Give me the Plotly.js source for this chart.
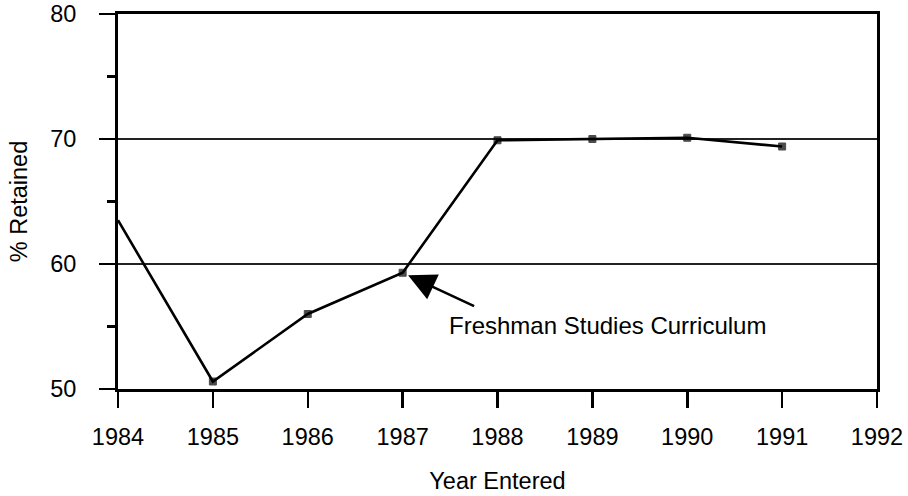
<!DOCTYPE html>
<html>
<head>
<meta charset="utf-8">
<script src="https://cdn.plot.ly/plotly-3.0.1.min.js"></script>
<style>html,body{margin:0;padding:0;background:#fff;}#chart{width:908px;height:496px;}</style>
</head>
<body>
<div id="chart"></div>
<script>
const years = [1984, 1985, 1986, 1987, 1988, 1989, 1990, 1991];
const retained = [63.5, 50.6, 56.0, 59.3, 69.9, 70.0, 70.1, 69.4];
const markerShown = [0, 1, 1, 1, 1, 1, 1, 1];
const xTicks = [1984, 1985, 1986, 1987, 1988, 1989, 1990, 1991, 1992];
const yTicks = [50, 60, 70, 80];
const annotationText = "Freshman Studies Curriculum";
const annotationYear = 1987;
const xTitle = "Year Entered";
const yTitle = "% Retained";

const font = "Liberation Sans, Arial, Helvetica, sans-serif";
const idx = years.indexOf(annotationYear);

const trace = {
  x: years, y: retained, type: "scatter", mode: "lines+markers",
  line: {color: "#000", width: 2.6},
  marker: {symbol: "square", color: "#000", size: markerShown.map(v => v ? 7 : 0),
           line: {color: "#000", width: 1}},
  cliponaxis: true, hoverinfo: "skip"
};

const layout = {
  width: 908, height: 496,
  margin: {l: 118, r: 31, t: 14, b: 107},
  paper_bgcolor: "#fff", plot_bgcolor: "#fff",
  showlegend: false,
  font: {family: font, color: "#000", size: 24},
  xaxis: {
    range: [1984, 1992], tickvals: xTicks, ticktext: xTicks.map(String),
    ticks: "outside", ticklen: 16, tickwidth: 2.5, tickcolor: "#000",
    showline: true, linewidth: 3, linecolor: "#000", mirror: true,
    showgrid: false, zeroline: false, ticklabelstandoff: 9,
    tickfont: {size: 23.5, family: font, color: "#000"},
    title: {text: xTitle, font: {size: 23.5, family: font, color: "#000"}, standoff: 24}
  },
  yaxis: {
    range: [50, 80], tickvals: yTicks, ticktext: yTicks.map(String),
    ticks: "outside", ticklen: 16, tickwidth: 2.5, tickcolor: "#000",
    minor: {dtick: 5, tick0: 50, ticks: "outside", ticklen: 8, tickwidth: 2.5, tickcolor: "#000", showgrid: false},
    showline: true, linewidth: 3, linecolor: "#000", mirror: true,
    showgrid: true, gridcolor: "#222", gridwidth: 1.5, zeroline: false,
    ticklabelstandoff: 18,
    tickfont: {size: 23.5, family: font, color: "#000"},
    title: {text: yTitle, font: {size: 23.5, family: font, color: "#000"}, standoff: 16}
  },
  annotations: [
    {
      x: years[idx], y: retained[idx], xref: "x", yref: "y",
      text: "", showarrow: true, axref: "pixel", ayref: "pixel",
      ax: 73, ay: 34, arrowhead: 2, arrowsize: 2.2, arrowwidth: 2.5,
      arrowcolor: "#000", standoff: 6
    },
    {
      x: 1989.16, y: 55.12, xref: "x", yref: "y",
      text: annotationText, showarrow: false, xanchor: "center", yanchor: "middle",
      font: {size: 24, family: font, color: "#000"}
    }
  ]
};

Plotly.newPlot("chart", [trace], layout, {staticPlot: true, displayModeBar: false});
</script>
</body>
</html>
